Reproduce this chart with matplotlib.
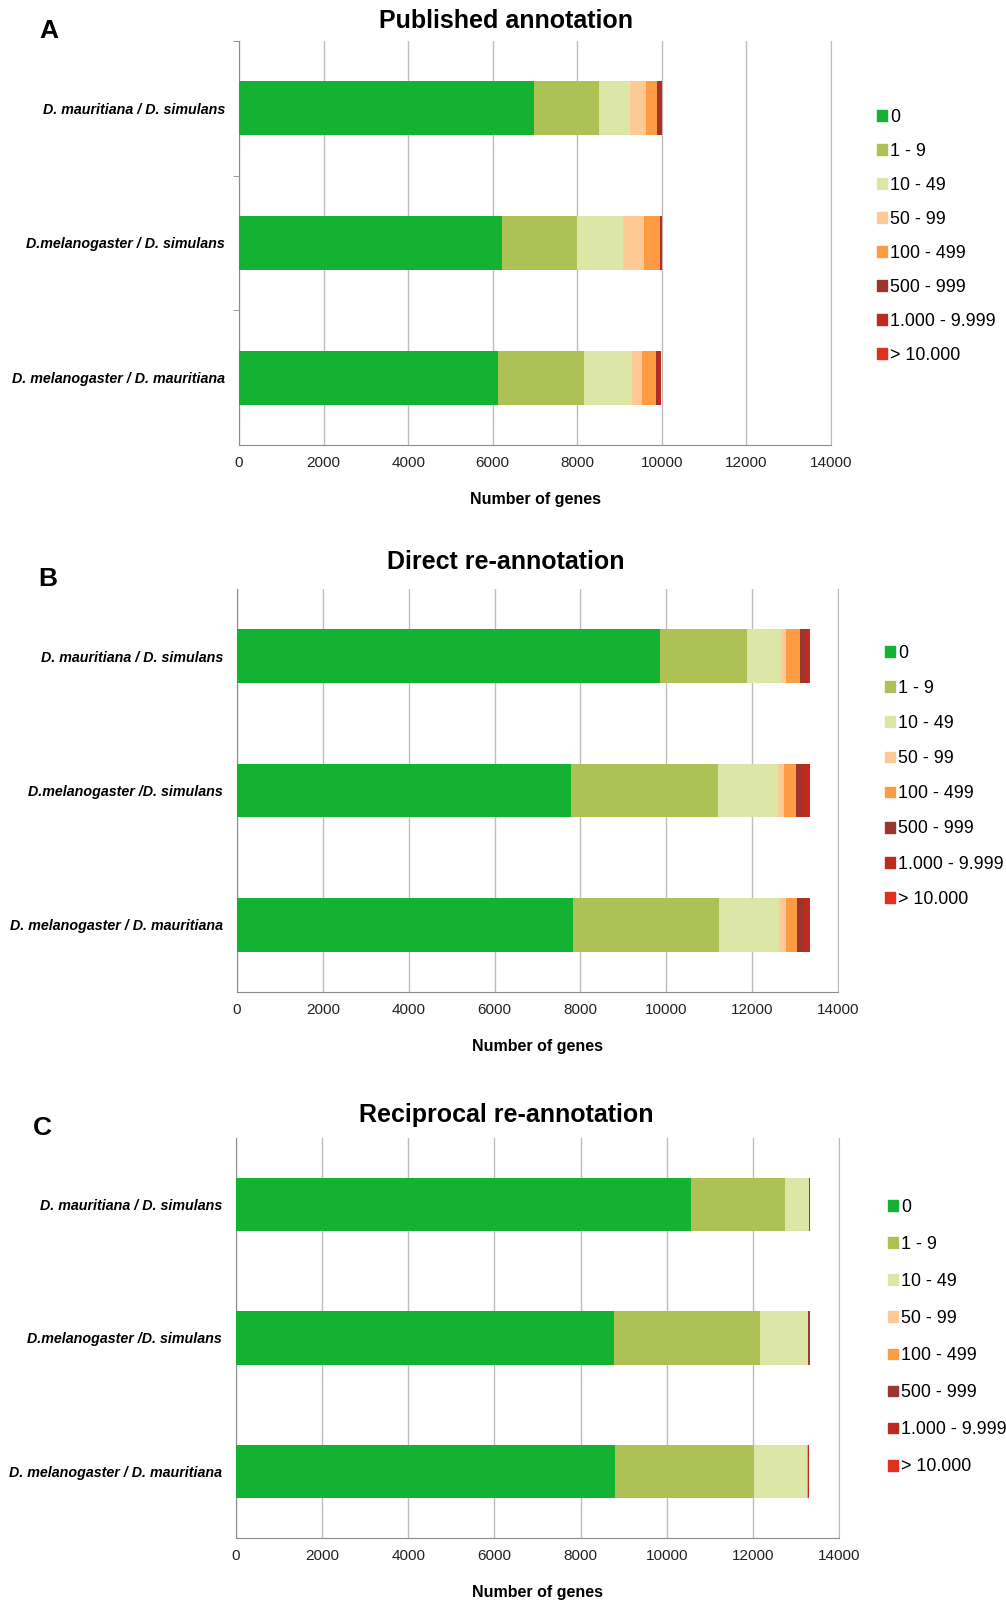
import matplotlib.pyplot as plt
from matplotlib.patches import Patch
import numpy as np

plt.rcParams['font.family'] = ['Liberation Sans', 'DejaVu Sans']

# pares de especies (de arriba a abajo)
pairs_A = ["D. mauritiana / D. simulans", "D.melanogaster / D. simulans",
           "D. melanogaster / D. mauritiana"]
pairs_BC = ["D. mauritiana / D. simulans", "D.melanogaster /D. simulans",
            "D. melanogaster / D. mauritiana"]

bins = ["0", "1 - 9", "10 - 49", "50 - 99", "100 - 499", "500 - 999",
        "1.000 - 9.999", "> 10.000"]
colors = ["#14B233", "#AEC155", "#DCE6A6", "#FEC995", "#FD9C42",
          "#9C3430", "#BD2A20", "#E0301E"]

# numero de genes por clase (una lista por clase, valores por par)
published = [[6980, 6230, 6125],
             [1530, 1770, 2030],
             [730, 1090, 1135],
             [390, 485, 235],
             [245, 375, 330],
             [55, 15, 45],
             [75, 40, 85],
             [5, 5, 5]]
direct = [[9850, 7770, 7830],
          [2040, 3440, 3405],
          [785, 1395, 1395],
          [125, 140, 150],
          [305, 280, 265],
          [130, 140, 148],
          [100, 180, 155],
          [15, 5, 5]]
reciprocal = [[10570, 8780, 8810],
              [2185, 3390, 3220],
              [537, 1112, 1222],
              [3, 3, 8],
              [5, 5, 15],
              [5, 5, 5],
              [20, 20, 15],
              [10, 5, 5]]

titles = ["Published annotation", "Direct re-annotation", "Reciprocal re-annotation"]
letters = ["A", "B", "C"]

W, H = 1006, 1603
fig = plt.figure(figsize=(W/100, H/100), dpi=100)


def panel(box, data, pairs, title, letter, title_y, letter_xy, leg_xy, leg_sp, ticks_y):
    l, t, r, b = box
    ax = fig.add_axes([l/W, 1-b/H, (r-l)/W, (b-t)/H])
    y = np.arange(len(pairs))[::-1]
    left = np.zeros(len(pairs))
    for vals, c, lab in zip(data, colors, bins):
        vals = np.array(vals, dtype=float)
        ax.barh(y, vals, left=left, height=0.4, color=c, label=lab, zorder=3)
        left += vals
    ax.set_xlim(0, 14000)
    ax.set_ylim(-0.5, 2.5)
    ax.set_xticks(np.arange(0, 14001, 2000))
    ax.set_yticks(y)
    ax.set_yticklabels(pairs, fontsize=10.3, fontweight='bold', fontstyle='italic')
    ax.tick_params(axis='y', length=0, pad=10)
    ax.tick_params(axis='x', length=0, pad=8, labelsize=11, colors='#222222')
    if ticks_y:
        ax.set_yticks([0.5, 1.5, 2.5], minor=True)
        ax.tick_params(axis='y', which='minor', length=4, color='#888888')
    ax.grid(axis='x', color='#BDBDBD', lw=1, zorder=0)
    ax.spines['top'].set_visible(False)
    for s in ['left', 'bottom']:
        ax.spines[s].set_color('#8C8C8C')
    ax.spines['right'].set_color('#BDBDBD')
    ax.set_xlabel("Number of genes", fontsize=11.5, fontweight='bold', labelpad=16)
    fig.text(506/W, 1-title_y/H, title, ha='center', va='center',
             fontsize=18, fontweight='bold')
    fig.text(letter_xy[0]/W, 1-letter_xy[1]/H, letter, ha='center', va='center',
             fontsize=19, fontweight='bold')
    handles = [Patch(color=c, label=lab) for c, lab in zip(colors, bins)]
    fig.legend(handles=handles, loc='upper left',
               bbox_to_anchor=(leg_xy[0]/W, 1-leg_xy[1]/H), frameon=False,
               fontsize=12.9, handlelength=0.55, handleheight=0.55, handletextpad=0.2,
               labelspacing=leg_sp, borderaxespad=0, borderpad=0)
    return ax


panel((239, 41, 831, 445), published, pairs_A, titles[0], letters[0], 21, (49, 31),
      (877, 109), 0.95, True)
panel((237, 589, 838, 992), direct, pairs_BC, titles[1], letters[1], 562, (48, 579),
      (885, 645), 1.01, False)
panel((236, 1138, 839, 1538), reciprocal, pairs_BC, titles[2], letters[2], 1115, (42, 1128),
      (888, 1199), 1.12, False)

fig.savefig('out.png', dpi=100)
